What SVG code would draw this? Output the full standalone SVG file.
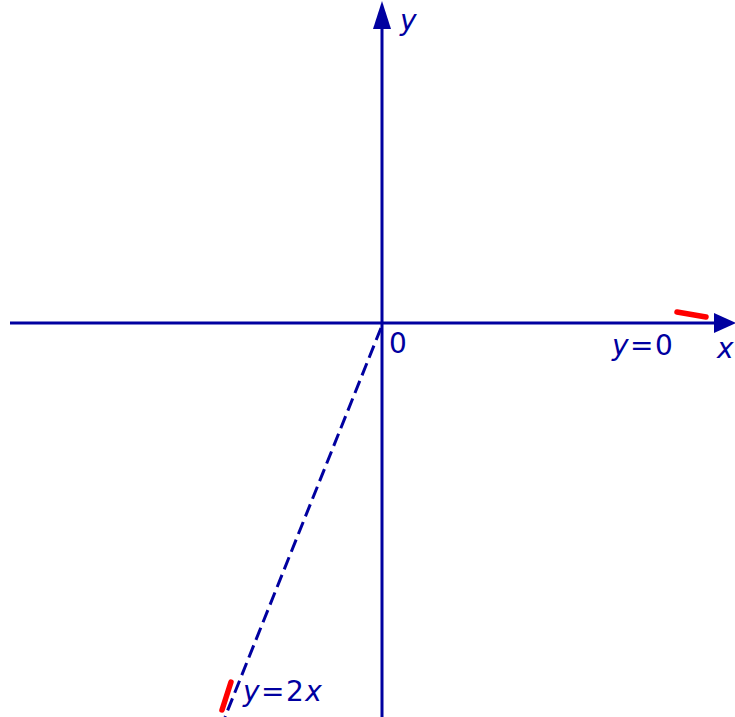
<svg xmlns="http://www.w3.org/2000/svg" width="735" height="717" viewBox="0 0 735 717">
<style>
.ax{stroke:#0000a0;stroke-width:3;fill:none}
.ah{fill:#0000a0}
.t{font-family:"DejaVu Sans",sans-serif;font-size:28px;letter-spacing:1.5px;fill:#0000a0}
.i{font-style:oblique}
.r{stroke:#f00;stroke-width:5.5;stroke-linecap:round;fill:none}
</style>
<rect width="735" height="717" fill="#fff"/>
<g id="connectors">
<line class="ax" x1="10" y1="323" x2="718" y2="323"/>
<polygon class="ah" points="736,323 714,313 714,333"/>
<line class="ax" x1="382" y1="717" x2="382" y2="24"/>
<polygon class="ah" points="382,1 373,29 391,29"/>
<line class="ax" x1="381" y1="328" x2="225" y2="717" stroke-dasharray="13,6" stroke-width="2.6"/>
</g>
<g id="label-y"><text class="t i" x="400" y="30">y</text></g>
<g id="label-x"><text class="t i" x="717" y="358">x</text></g>
<g id="label-0"><text class="t" x="389" y="353">0</text></g>
<g id="label-y0"><text class="t" x="612" y="355"><tspan class="i">y</tspan>=0</text></g>
<g id="label-y2x"><text class="t" x="243" y="701"><tspan class="i">y</tspan>=2<tspan class="i">x</tspan></text></g>
<g id="marks">
<path class="r" d="M677,312 L706,317"/>
<path class="r" d="M222,710 L231,682"/>
</g>
</svg>
